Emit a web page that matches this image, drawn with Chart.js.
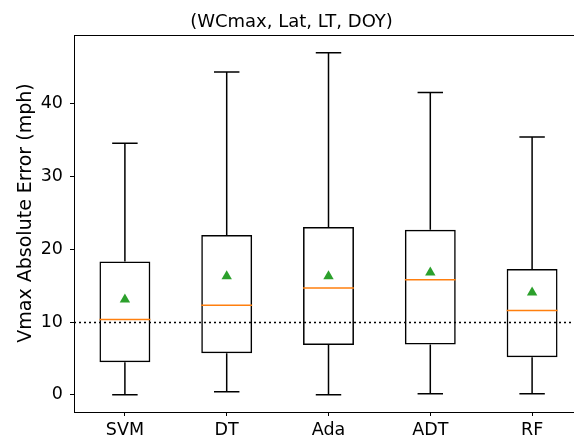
<!DOCTYPE html>
<html>
<head>
<meta charset="utf-8">
<script src="https://cdn.jsdelivr.net/npm/chart.js@4/dist/chart.umd.min.js"></script>
<style>
  html, body { margin: 0; padding: 0; background: #fff; overflow: hidden; }
  #wrap { width: 597px; height: 443px; }
</style>
</head>
<body>
<div id="wrap"><canvas id="boxChart" width="597" height="443"></canvas></div>
<script>
// box plot stats
const categories   = ['SVM', 'DT', 'Ada', 'ADT', 'RF'];
const whiskerLow   = [0.0, 0.41, 0.0, 0.14, 0.14];
const q1Values     = [4.47, 5.70, 6.84, 6.93, 5.15];
const medianValues = [10.36, 12.30, 14.68, 15.80, 11.58];
const q3Values     = [18.33, 21.98, 23.08, 22.67, 17.28];
const whiskerHigh  = [34.57, 44.36, 47.0, 41.55, 35.43];
const meanValues   = [13.1, 16.3, 16.3, 16.8, 14.05];
const yTicks       = [0, 10, 20, 30, 40];
const refLine      = 10;
const yLabel       = 'Vmax Absolute Error (mph)';

const FONT = 'DejaVu Sans';
const positions = categories.map((c, i) => i + 1);

// whiskers, caps, medians and the dotted reference line, placed through the scales
const boxExtras = {
  id: 'boxExtras',
  beforeDatasetsDraw(chart) {
    const { ctx, chartArea, scales: { y } } = chart;
    const py = Math.round(y.getPixelForValue(refLine)) + 0.5;
    ctx.save();
    ctx.strokeStyle = '#000';
    ctx.lineWidth = 1.4;
    ctx.setLineDash([2, 3]);
    ctx.beginPath();
    ctx.moveTo(chartArea.left, py);
    ctx.lineTo(chartArea.right, py);
    ctx.stroke();
    ctx.restore();
  },
  afterDatasetsDraw(chart) {
    const { ctx, chartArea, scales: { x, y } } = chart;
    ctx.save();
    ctx.lineWidth = 1.5;
    positions.forEach((p, i) => {
      const cx = x.getPixelForValue(p);
      const capL = x.getPixelForValue(p - 0.125), capR = x.getPixelForValue(p + 0.125);
      const boxL = x.getPixelForValue(p - 0.25), boxR = x.getPixelForValue(p + 0.25);
      const yLo = y.getPixelForValue(whiskerLow[i]), yQ1 = y.getPixelForValue(q1Values[i]);
      const yQ3 = y.getPixelForValue(q3Values[i]), yHi = y.getPixelForValue(whiskerHigh[i]);
      ctx.strokeStyle = '#000';
      ctx.beginPath();
      ctx.moveTo(cx, yQ1); ctx.lineTo(cx, yLo);
      ctx.moveTo(cx, yQ3); ctx.lineTo(cx, yHi);
      ctx.moveTo(capL, yLo); ctx.lineTo(capR, yLo);
      ctx.moveTo(capL, yHi); ctx.lineTo(capR, yHi);
      ctx.stroke();
      const yMed = y.getPixelForValue(medianValues[i]);
      ctx.strokeStyle = '#ff7f0e';
      ctx.beginPath();
      ctx.moveTo(boxL, yMed); ctx.lineTo(boxR, yMed);
      ctx.stroke();
    });
    // top spine
    ctx.strokeStyle = '#000';
    ctx.lineWidth = 1;
    ctx.beginPath();
    ctx.moveTo(chartArea.left, chartArea.top + 0.5);
    ctx.lineTo(chartArea.right, chartArea.top + 0.5);
    ctx.stroke();
    ctx.restore();
  },
  afterDraw(chart) {
    // y axis label, sits a little above the centre of the plot like the original
    const { ctx } = chart;
    ctx.save();
    ctx.translate(26, 213);
    ctx.rotate(-Math.PI / 2);
    ctx.fillStyle = '#000';
    ctx.font = '19px "' + FONT + '"';
    ctx.textAlign = 'center';
    ctx.textBaseline = 'middle';
    ctx.fillText(yLabel, 0, 0);
    ctx.restore();
  }
};

new Chart(document.getElementById('boxChart'), {
  data: {
    datasets: [
      {
        type: 'bar',
        data: positions.map((p, i) => ({ x: p, y: [q1Values[i], q3Values[i]] })),
        backgroundColor: 'rgba(0,0,0,0)',
        borderColor: '#000',
        borderWidth: 1.5,
        borderSkipped: false,
        barPercentage: 0.5,
        categoryPercentage: 1.0
      },
      {
        type: 'scatter',
        data: positions.map((p, i) => ({ x: p, y: meanValues[i] })),
        pointStyle: 'triangle',
        pointRadius: 6,
        backgroundColor: '#2ca02c',
        borderColor: '#2ca02c',
        borderWidth: 0
      }
    ]
  },
  options: {
    responsive: false,
    animation: false,
    layout: { padding: { left: 0, right: 14, top: 0, bottom: 0 } },
    plugins: {
      legend: { display: false },
      tooltip: { enabled: false },
      title: {
        display: true,
        text: '(WCmax, Lat, LT, DOY)',
        color: '#000',
        font: { family: FONT, size: 18, weight: 'normal', lineHeight: 1.2 },
        padding: { top: 12, bottom: 1.4 }
      }
    },
    scales: {
      x: {
        type: 'linear',
        min: 0.5,
        max: 5.5,
        offset: false,
        afterBuildTicks: s => { s.ticks = positions.map(v => ({ value: v })); },
        afterFit: s => { s.height = 31; },
        ticks: {
          callback: v => categories[v - 1],
          color: '#000',
          font: { family: FONT, size: 17.5 },
          padding: 4,
          maxRotation: 0,
          autoSkip: false
        },
        grid: { offset: false, drawOnChartArea: false, drawTicks: true, tickLength: 4, color: '#000' },
        border: { display: true, color: '#000', width: 1 }
      },
      y: {
        type: 'linear',
        min: -2.36,
        max: 49.45,
        afterBuildTicks: s => { s.ticks = yTicks.map(v => ({ value: v })); },
        afterFit: s => { s.width = 74; },
        ticks: {
          color: '#000',
          font: { family: FONT, size: 17.5 },
          padding: 7
        },
        grid: { drawOnChartArea: false, drawTicks: true, tickLength: 4, color: '#000' },
        border: { display: true, color: '#000', width: 1 }
      }
    }
  },
  plugins: [boxExtras]
});
</script>
</body>
</html>
